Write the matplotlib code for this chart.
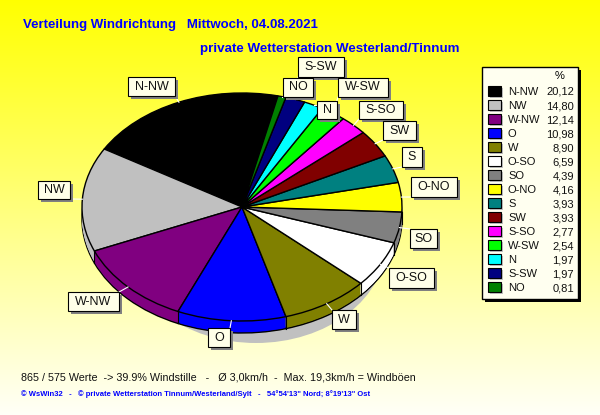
import numpy as np
import matplotlib
matplotlib.use('Agg')
import matplotlib.pyplot as plt
from matplotlib.patches import Ellipse, Rectangle

plt.rcParams['font.family'] = ['Liberation Sans', 'DejaVu Sans']

categories = ['N-NW', 'NW', 'W-NW', 'O', 'W', 'O-SO', 'SO', 'O-NO',
              'S', 'SW', 'S-SO', 'W-SW', 'N', 'S-SW', 'NO']
values = [20.12, 14.80, 12.14, 10.98, 8.90, 6.59, 4.39, 4.16,
          3.93, 3.93, 2.77, 2.54, 1.97, 1.97, 0.81]
colors = ['#000000', '#C0C0C0', '#800080', '#0000FF', '#808000', '#FFFFFF', '#808080', '#FFFF00',
          '#008080', '#800000', '#FF00FF', '#00FF00', '#00FFFF', '#000080', '#008000']

# Label boxes in pixels: left, top, right, bottom
label_boxes = {
    'N-NW': (128, 77, 175, 96), 'NW': (38, 181, 70, 199), 'W-NW': (68, 292, 119, 311),
    'O': (208, 328, 230, 347), 'W': (332, 310, 356, 329), 'O-SO': (389, 268, 434, 288),
    'SO': (410, 229, 437, 248), 'O-NO': (411, 177, 457, 197), 'S': (402, 147, 422, 167),
    'SW': (383, 121, 416, 140), 'S-SO': (359, 101, 403, 119), 'W-SW': (338, 78, 388, 97),
    'N': (317, 101, 337, 119), 'S-SW': (298, 57, 344, 77), 'NO': (283, 78, 313, 97),
}

W, H = 600, 415
CX, CY, RX, RY = 242, 207, 160, 114
DEPTH = 12
START = 77

fig = plt.figure(figsize=(W / 100, H / 100), dpi=100)

# Background gradient
ax_bg = fig.add_axes([0, 0, 1, 1], zorder=0)
grad = np.ones((H, 1, 3))
grad[:, 0, 2] = np.linspace(0, 0.97, H)
ax_bg.imshow(grad, aspect='auto')
ax_bg.axis('off')

# Pie axes, stretched so that the circle becomes the ellipse
ax_pie = fig.add_axes([0, 0, 1, 1], zorder=1)
ax_pie.add_patch(Ellipse((14 / RX, -36 / RY), 260 / RX, 200 / RY, color='#C0C0C0', lw=0))
for k in range(DEPTH, 0, -1):
    props = {'linewidth': 1, 'edgecolor': 'black'} if k == DEPTH else {'linewidth': 0}
    ax_pie.pie(values, colors=colors, startangle=START, center=(0, -k / RY), radius=1,
               wedgeprops=props)
ax_pie.pie(values, colors=colors, startangle=START, center=(0, 0), radius=1,
           wedgeprops={'linewidth': 1, 'edgecolor': 'black'})
ax_pie.set_aspect('auto')
ax_pie.set_xlim(-CX / RX, (W - CX) / RX)
ax_pie.set_ylim((CY - H) / RY, CY / RY)
ax_pie.axis('off')

# Overlay in pixel coordinates
ax = fig.add_axes([0, 0, 1, 1], zorder=2)
ax.set_xlim(0, W)
ax.set_ylim(H, 0)
ax.axis('off')
ax.patch.set_alpha(0)

# Vertical edges of the front slices and white leader lines
angles = START + np.cumsum([0] + values) * 3.6
for a in np.radians(angles):
    if np.sin(a) < 0:
        x = CX + RX * np.cos(a)
        y = CY - RY * np.sin(a)
        ax.plot([x, x], [y, y + DEPTH], color='black', lw=0.8)

for name, a0, a1 in zip(categories, angles[:-1], angles[1:]):
    mid = np.radians((a0 + a1) / 2)
    x0 = CX + RX * np.cos(mid)
    y0 = CY - RY * np.sin(mid)
    l, t, r, b = label_boxes[name]
    x1 = min(max(x0, l), r)
    y1 = min(max(y0, t), b)
    ax.plot([x0, x1], [y0, y1], color='white', lw=0.8, zorder=3)

for name in categories:
    l, t, r, b = label_boxes[name]
    ax.add_patch(Rectangle((l + 3, t + 3), r - l, b - t, color='#808080', lw=0, zorder=4))
    ax.add_patch(Rectangle((l, t), r - l, b - t, facecolor='#FFFFE8', edgecolor='black', lw=0.8, zorder=5))
    ax.text((l + r) / 2, (t + b) / 2, name, ha='center', va='center', fontsize=9, color='#101010', zorder=6)

# Legend
ax.add_patch(Rectangle((485, 70), 96, 232, color='black', lw=0, zorder=4))
ax.add_patch(Rectangle((482, 67), 96, 232, facecolor='#FFFFF0', edgecolor='black', lw=1, zorder=5))
ax.text(560, 76, '%', ha='center', va='center', fontsize=8, zorder=6)
for i, (name, val, col) in enumerate(zip(categories, values, colors)):
    y = 92 + i * 14
    ax.add_patch(Rectangle((490, y - 4), 13, 10, color='#C0C0C0', lw=0, zorder=6))
    ax.add_patch(Rectangle((488, y - 6), 13, 10, facecolor=col, edgecolor='black', lw=0.8, zorder=7))
    ax.text(508, y, name, ha='left', va='center', fontsize=8, color='#101010', zorder=6)
    ax.text(574, y, f'{val:.2f}'.replace('.', ','), ha='right', va='center', fontsize=8,
            color='#101010', zorder=6)

# Titles and footers
ax.text(23, 25, 'Verteilung Windrichtung   Mittwoch, 04.08.2021', color='#0000FF', fontsize=9.5,
        fontweight='bold', va='center')
ax.text(200, 49, 'private Wetterstation Westerland/Tinnum', color='#0000FF', fontsize=9.6,
        fontweight='bold', va='center')
ax.text(21, 377, '865 / 575 Werte  -> 39.9% Windstille   -   Ø 3,0km/h  -  Max. 19,3km/h = Windböen',
        color='#101010', fontsize=7.75, va='center')
ax.text(21, 394, '© WsWin32   -   © private Wetterstation Tinnum/Westerland/Sylt   -   54°54\'13" Nord; 8°19\'13" Ost',
        color='#0000FF', fontsize=5.5, fontweight='bold', va='center')

fig.savefig('out.png', dpi=100)
